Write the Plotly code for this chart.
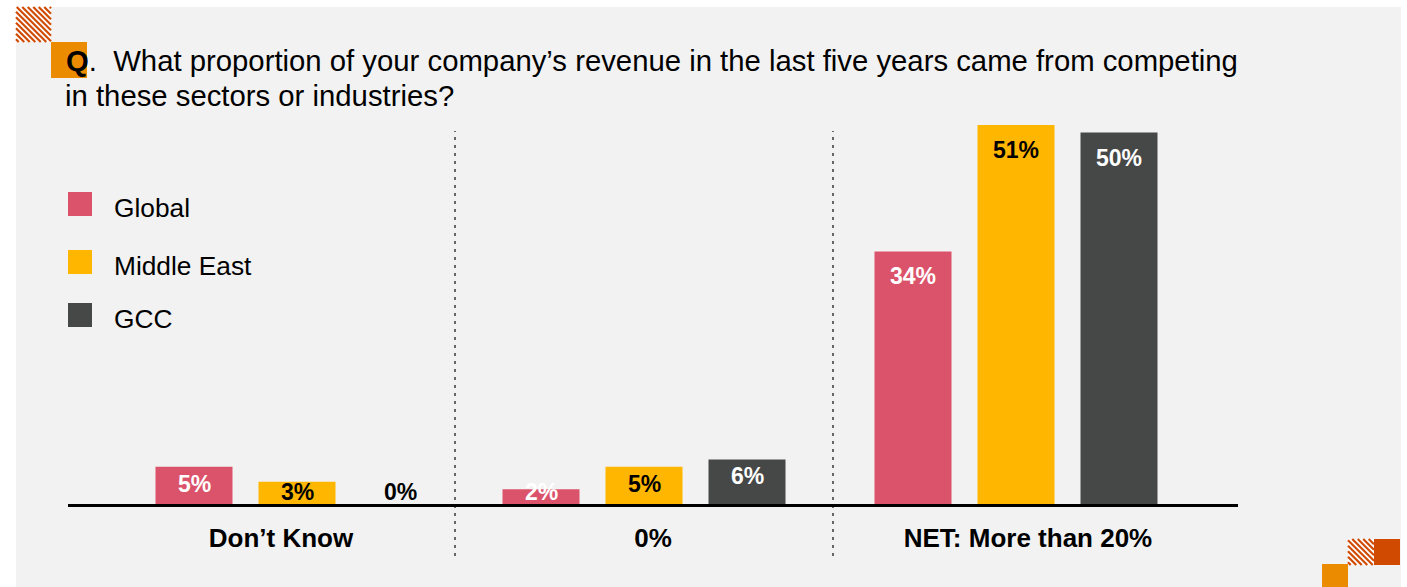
import plotly.graph_objects as go

# ---- data -------------------------------------------------------------
categories = ["Don\u2019t Know", "0%", "NET: More than 20%"]
series_names = ["Global", "Middle East", "GCC"]
global_vals = [5, 2, 34]
middle_east_vals = [3, 5, 51]
gcc_vals = [0, 6, 50]
value_labels = [
    ["5%", "2%", "34%"],
    ["3%", "5%", "51%"],
    ["0%", "6%", "50%"],
]

# ---- styling / layout constants --------------------------------------
W, H = 1407, 587
ML, MR, MT, MB = 68, 169, 100, 83
PW = W - ML - MR
PH = H - MT - MB
PX_PER_PCT = 7.43                      # vertical scale of the value axis
COLORS = ["#db536a", "#ffb600", "#464747"]
LABEL_COLORS = ["white", "black", "white"]
FONT = "Liberation Sans, Arial, Helvetica, sans-serif"

GROUP_X = [229, 576, 948]              # group centres along the x axis
TICK_X = [213, 585, 960]               # category label centres
DIVIDER_X = [387, 765]                 # dotted separators between groups
BAR_W = 77
SLOT = 103


def px_x(px):
    return (px - ML) / PW


def px_y(py):
    return (H - MB - py) / PH


fig = go.Figure()

all_vals = [global_vals, middle_east_vals, gcc_vals]
for i, (name, vals) in enumerate(zip(series_names, all_vals)):
    fig.add_trace(go.Bar(
        x=GROUP_X,
        y=vals,
        name=name,
        width=BAR_W,
        offset=(i - 1) * SLOT - BAR_W / 2,
        marker=dict(color=COLORS[i], line=dict(width=0)),
        showlegend=False,
        hoverinfo="skip",
    ))

annotations = []

# value labels inside the bars
for i, vals in enumerate(all_vals):
    for j, v in enumerate(vals):
        bar_px = v * PX_PER_PCT
        shift = max(-25 if bar_px > 60 else -17, 12 - bar_px)
        color = LABEL_COLORS[i] if v > 0 else "black"
        annotations.append(dict(
            x=GROUP_X[j] + (i - 1) * SLOT, y=v, xref="x", yref="y",
            text=f"<b>{value_labels[i][j]}</b>", showarrow=False,
            yanchor="middle", xanchor="center", yshift=shift,
            font=dict(family=FONT, size=23, color=color),
        ))

# question text
annotations.append(dict(
    x=px_x(64), y=px_y(61), xref="paper", yref="paper",
    xanchor="left", yanchor="middle", showarrow=False,
    text="<b>Q</b>.\u00a0\u00a0What proportion of your company\u2019s revenue in the last five years came from competing",
    font=dict(family=FONT, size=29.3, color="black"),
))
annotations.append(dict(
    x=px_x(63), y=px_y(95), xref="paper", yref="paper",
    xanchor="left", yanchor="middle", showarrow=False,
    text="in these sectors or industries?",
    font=dict(family=FONT, size=29.3, color="black"),
))

shapes = [
    # light panel behind everything
    dict(type="rect", xref="paper", yref="paper", layer="below",
         x0=px_x(16), x1=px_x(1401), y0=px_y(587), y1=px_y(7),
         fillcolor="#f2f2f2", line=dict(width=0)),
    # "Q" marker box
    dict(type="rect", xref="paper", yref="paper", layer="below",
         x0=px_x(51), x1=px_x(87), y0=px_y(78), y1=px_y(42),
         fillcolor="#eb8c00", line=dict(width=0)),
    # bottom-right blocks
    dict(type="rect", xref="paper", yref="paper", layer="below",
         x0=px_x(1374), x1=px_x(1400), y0=px_y(565), y1=px_y(539),
         fillcolor="#d04a02", line=dict(width=0)),
    dict(type="rect", xref="paper", yref="paper", layer="below",
         x0=px_x(1322), x1=px_x(1348), y0=px_y(587), y1=px_y(564),
         fillcolor="#eb8c00", line=dict(width=0)),
]


def hatch(x0, y0, size, period=5.5, color="#d04a02"):
    out = [dict(type="rect", xref="paper", yref="paper", layer="below",
                x0=px_x(x0), x1=px_x(x0 + size), y0=px_y(y0 + size), y1=px_y(y0),
                fillcolor="white", line=dict(width=0))]
    c = -size + period / 2
    while c < size:
        if c >= 0:
            ax, ay, bx, by = x0 + c, y0, x0 + size, y0 + size - c
        else:
            ax, ay, bx, by = x0, y0 - c, x0 + size + c, y0 + size
        out.append(dict(type="line", xref="paper", yref="paper", layer="below",
                        x0=px_x(ax), y0=px_y(ay), x1=px_x(bx), y1=px_y(by),
                        line=dict(color=color, width=2.2)))
        c += period
    return out


shapes += hatch(16, 7, 35)
shapes += hatch(1348, 539, 26)

# dotted separators
for dx in DIVIDER_X:
    shapes.append(dict(type="line", xref="x", yref="paper", layer="below",
                       x0=dx, x1=dx, y0=px_y(556), y1=px_y(131),
                       line=dict(color="#666666", width=2, dash="3px,5px")))

# legend: coloured squares and names
legend_tops = [192, 250, 303]
for i, name in enumerate(series_names):
    top = legend_tops[i]
    shapes.append(dict(type="rect", xref="paper", yref="paper", layer="below",
                       x0=px_x(68), x1=px_x(92), y0=px_y(top + 24), y1=px_y(top),
                       fillcolor=COLORS[i], line=dict(width=0)))
    annotations.append(dict(
        x=px_x(112), y=px_y(top + 16), xref="paper", yref="paper",
        xanchor="left", yanchor="middle", showarrow=False, text=name,
        font=dict(family=FONT, size=26.3, color="black"),
    ))

fig.update_layout(
    width=W, height=H,
    margin=dict(l=ML, r=MR, t=MT, b=MB, pad=0),
    paper_bgcolor="white",
    plot_bgcolor="rgba(0,0,0,0)",
    barmode="overlay",
    showlegend=False,
    xaxis=dict(
        range=[0, PW], showgrid=False, zeroline=False,
        showline=True, linecolor="black", linewidth=3,
        tickmode="array", tickvals=TICK_X, ticktext=categories,
        ticks="", ticklabelstandoff=9,
        tickfont=dict(family=FONT, size=26, color="black", weight="bold"),
        fixedrange=True,
    ),
    yaxis=dict(
        range=[0, PH / PX_PER_PCT], visible=False, fixedrange=True,
    ),
    shapes=shapes,
    annotations=annotations,
)

fig.write_html("out.html", config={"displayModeBar": False})
